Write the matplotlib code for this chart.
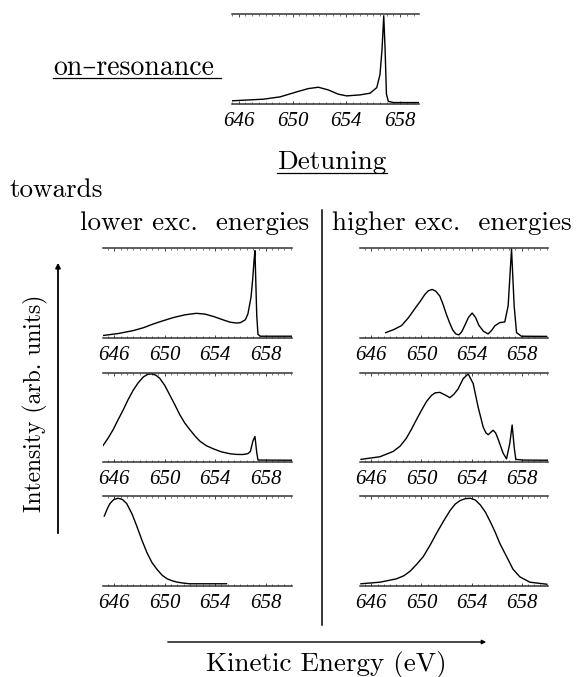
import matplotlib.pyplot as plt
from matplotlib.lines import Line2D
from matplotlib.patches import FancyArrowPatch
from matplotlib.ticker import MultipleLocator

# energies (eV) and intensities
tick_pos = [646, 650, 654, 658]
tick_labels = ["646", "650", "654", "658"]

on_res_e = [645.52, 647.83, 649.07, 650.31, 651.17, 651.92, 652.66, 653.4, 654.03, 655.0,
            655.76, 656.26, 656.5, 656.65, 656.78, 656.88, 656.98, 657.12, 657.5, 659.4]
on_res_i = [0.026, 0.044, 0.07, 0.126, 0.163, 0.178, 0.148, 0.10, 0.081, 0.092,
            0.111, 0.174, 0.32, 0.60, 0.98, 0.60, 0.10, 0.02, 0.006, 0.006]

low1_e = [645.1, 646.3, 647.5, 648.3, 649.1, 649.9, 650.7, 651.6, 652.5, 653.2, 653.9, 654.6,
          655.2, 655.7, 656.0, 656.4, 656.6, 656.85, 656.98, 657.1, 657.16, 657.3, 657.4, 657.6, 660.1]
low1_i = [0.018, 0.04, 0.073, 0.105, 0.148, 0.185, 0.22, 0.25, 0.267, 0.258, 0.23, 0.195,
          0.167, 0.158, 0.162, 0.195, 0.26, 0.45, 0.65, 0.88, 0.97, 0.25, 0.03, 0.01, 0.01]

low2_e = [645.1, 645.5, 645.9, 646.3, 646.7, 647.1, 647.5, 647.9, 648.3, 648.65, 648.97,
          649.3, 649.6, 650.0, 650.4, 650.8, 651.2, 651.6, 652.0, 652.4, 652.8, 653.3,
          653.85, 654.5, 655.2, 655.7, 656.2, 656.6, 656.8, 657.0, 657.16, 657.3, 657.4, 660.1]
low2_i = [0.176, 0.26, 0.356, 0.47, 0.58, 0.70, 0.805, 0.89, 0.955, 0.985, 0.99,
          0.975, 0.94, 0.86, 0.75, 0.64, 0.525, 0.43, 0.356, 0.285, 0.225, 0.175,
          0.14, 0.105, 0.083, 0.076, 0.075, 0.085, 0.11, 0.23, 0.28, 0.10, 0.012, 0.01]

low3_e = [645.2, 645.45, 645.65, 645.95, 646.3, 646.65, 646.98, 647.4, 647.8, 648.2, 648.6,
          649.0, 649.4, 649.8, 650.2, 650.6, 651.0, 651.5, 652.0, 654.9]
low3_i = [0.774, 0.86, 0.915, 0.96, 0.975, 0.96, 0.915, 0.80, 0.655, 0.50, 0.36,
          0.25, 0.174, 0.11, 0.07, 0.048, 0.033, 0.022, 0.015, 0.015]

high1_e = [647.15, 647.8, 648.42, 648.95, 649.48, 649.9, 650.28, 650.55, 650.86, 651.15, 651.47,
           651.72, 651.98, 652.25, 652.5, 652.75, 652.99, 653.22, 653.47, 653.75, 654.05,
           654.32, 654.58, 654.95, 655.32, 655.6, 655.86, 656.26, 656.65, 656.92, 657.19,
           657.4, 657.59, 657.98, 659.98]
high1_i = [0.05, 0.085, 0.13, 0.215, 0.32, 0.40, 0.48, 0.52, 0.535, 0.515, 0.46,
           0.37, 0.26, 0.16, 0.08, 0.035, 0.025, 0.06, 0.134, 0.22, 0.27,
           0.22, 0.134, 0.065, 0.036, 0.075, 0.127, 0.163, 0.17, 0.35, 0.99,
           0.35, 0.05, 0.01, 0.008]

high2_e = [645.18, 646.7, 647.75, 648.3, 648.8, 649.2, 649.6, 650.0, 650.4, 650.8, 651.1,
           651.47, 651.9, 652.27, 652.6, 652.93, 653.33, 653.73, 654.13, 654.53, 654.93,
           655.15, 655.33, 655.52, 655.72, 655.92, 656.12, 656.52, 656.79, 657.05, 657.24,
           657.4, 657.53, 658.1, 660.1]
high2_i = [0.02, 0.05, 0.11, 0.17, 0.26, 0.36, 0.47, 0.575, 0.675, 0.745, 0.775,
           0.78, 0.75, 0.72, 0.76, 0.82, 0.935, 0.99, 0.88, 0.61, 0.386,
           0.32, 0.30, 0.325, 0.35, 0.32, 0.25, 0.09, 0.026, 0.20, 0.41,
           0.16, 0.02, 0.012, 0.01]

high3_e = [645.18, 646.7, 648.0, 648.6, 649.1, 649.6, 650.15, 650.7, 651.2, 651.75, 652.3,
           652.7, 653.1, 653.5, 653.9, 654.3, 654.7, 655.1, 655.5, 655.9, 656.25, 656.65,
           657.05, 657.3, 657.85, 658.65, 660.0]
high3_i = [0.015, 0.033, 0.07, 0.105, 0.156, 0.23, 0.32, 0.45, 0.58, 0.715, 0.84,
           0.91, 0.95, 0.97, 0.975, 0.955, 0.90, 0.82, 0.71, 0.59, 0.47, 0.36,
           0.25, 0.18, 0.093, 0.033, 0.01]

W, H = 577, 677
fig = plt.figure(figsize=(W / 100, H / 100), dpi=100)
text_font = ['cmr10', 'DejaVu Serif']
plt.rcParams['axes.formatter.use_mathtext'] = True


def box(x0, y0, x1, y1):
    # pixel box (top-left origin) -> figure fraction rect
    return [x0 / W, 1 - y1 / H, (x1 - x0) / W, (y1 - y0) / H]


def panel(rect, e, inten, xlim):
    ax = fig.add_axes(rect)
    ax.plot(e, inten, color='k', lw=1.0)
    ax.set_xlim(*xlim)
    ax.set_ylim(-0.01, 1.0)
    ax.spines['left'].set_visible(False)
    ax.spines['right'].set_visible(False)
    for s in ('top', 'bottom'):
        ax.spines[s].set_linewidth(1.1)
        ax.spines[s].set_color('#333333')
    ax.set_yticks([])
    ax.set_xticks(tick_pos)
    ax.set_xticklabels(tick_labels, fontfamily='Liberation Serif', fontstyle='italic', fontsize=15)
    ax.xaxis.set_minor_locator(MultipleLocator(0.5))
    ax.tick_params(axis='x', which='both', direction='in', top=True, bottom=True, color='#444444')
    ax.tick_params(axis='x', which='major', length=2.2, width=0.7, pad=5.5)
    ax.tick_params(axis='x', which='minor', length=1.1, width=0.5)
    return ax


top_lim = (645.5, 659.4)
low_lim = (645.1, 660.1)
panel(box(232, 14, 419, 104), on_res_e, on_res_i, top_lim)

rows = [(248, 338), (373, 462), (496, 586)]
lower = [(low1_e, low1_i), (low2_e, low2_i), (low3_e, low3_i)]
higher = [(high1_e, high1_i), (high2_e, high2_i), (high3_e, high3_i)]
for (y0, y1), (le, li), (he, hi) in zip(rows, lower, higher):
    panel(box(103, y0, 292, y1), le, li, low_lim)
    panel(box(360, y0, 548, y1), he, hi, low_lim)


def label(x, y, s, size=19.5, **kw):
    fig.text(x / W, 1 - y / H, s, family=text_font, fontsize=size, va='baseline', **kw)


def hline(x0, x1, y, lw=0.9):
    fig.add_artist(Line2D([x0 / W, x1 / W], [1 - y / H, 1 - y / H],
                          transform=fig.transFigure, color='k', lw=lw))


label(53, 75, "on\u2013resonance", size=20)
hline(53, 221, 78)
label(277, 169, "Detuning")
hline(277, 387, 173)
label(10, 197, "towards")
label(80, 230, "lower exc.  energies")
label(332, 230, "higher exc.  energies")

# divider between the two columns
fig.add_artist(Line2D([322 / W, 322 / W], [1 - 210 / H, 1 - 625 / H],
                      transform=fig.transFigure, color='k', lw=1.1))

# axis arrows
fig.add_artist(FancyArrowPatch((58 / W, 1 - 536 / H), (58 / W, 1 - 260 / H),
                               transform=fig.transFigure, arrowstyle='-|>',
                               mutation_scale=7, lw=1.3, color='k'))
fig.add_artist(FancyArrowPatch((165 / W, 1 - 642 / H), (489 / W, 1 - 642 / H),
                               transform=fig.transFigure, arrowstyle='-|>',
                               mutation_scale=6, lw=1.0, color='k'))
fig.text(35 / W, 1 - 403 / H, "Intensity (arb. units)", family=text_font, fontsize=17,
         rotation=90, ha='center', va='center')
fig.text(326 / W, 1 - 671 / H, "Kinetic Energy (eV)", family=text_font, fontsize=19.5,
         ha='center', va='baseline')

fig.savefig("out.png", dpi=100)
